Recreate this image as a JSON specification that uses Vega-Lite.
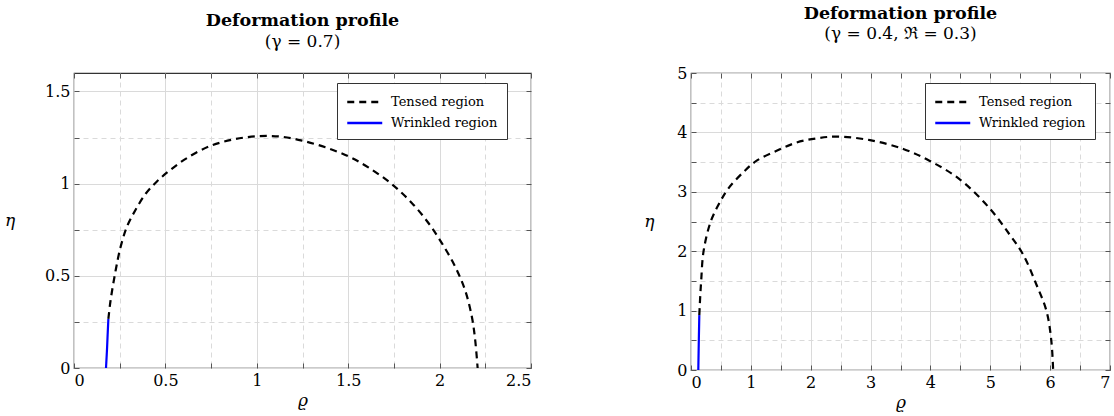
{
  "$schema": "https://vega.github.io/schema/vega-lite/v6.json",
  "padding": {"left": 3, "top": 3, "right": 4, "bottom": 5},
  "config": {
    "font": "DejaVu Serif",
    "view": {"stroke": "#333", "strokeWidth": 1.2},
    "axis": {
      "domain": false,
      "labelFont": "DejaVu Serif",
      "labelFontSize": 16,
      "labelColor": "#000",
      "tickColor": "#555",
      "tickSize": -5,
      "labelPadding": 9,
      "gridColor": "#dadada",
      "titleFont": "DejaVu Serif",
      "titleFontSize": 17,
      "titleFontStyle": "italic",
      "titleFontWeight": "normal",
      "titleColor": "#000"
    },
    "title": {
      "font": "DejaVu Serif",
      "fontSize": 17.5,
      "fontWeight": "bold",
      "color": "#000",
      "subtitleFont": "DejaVu Serif",
      "subtitleFontSize": 17,
      "subtitleColor": "#000",
      "anchor": "middle",
      "offset": 23,
      "subtitlePadding": 4
    },
    "legend": {
      "title": null,
      "orient": "none",
      "strokeColor": "#333",
      "fillColor": "#fff",
      "padding": 9,
      "labelFont": "DejaVu Serif",
      "labelFontSize": 13,
      "labelColor": "#000",
      "labelOffset": 25,
      "symbolType": "M-1,0H3",
      "symbolSize": 306,
      "symbolStrokeWidth": 2.5,
      "rowPadding": 4
    }
  },
  "datasets": {
    "curves": [
      {"panel": "a", "region": "Wrinkled region", "rho": 0.175, "eta": 0},
      {"panel": "a", "region": "Wrinkled region", "rho": 0.18, "eta": 0.09},
      {"panel": "a", "region": "Wrinkled region", "rho": 0.184, "eta": 0.18},
      {"panel": "a", "region": "Wrinkled region", "rho": 0.188, "eta": 0.266},
      {"panel": "a", "region": "Tensed region", "rho": 0.188, "eta": 0.266},
      {"panel": "a", "region": "Tensed region", "rho": 0.2, "eta": 0.366},
      {"panel": "a", "region": "Tensed region", "rho": 0.228, "eta": 0.53},
      {"panel": "a", "region": "Tensed region", "rho": 0.255, "eta": 0.657},
      {"panel": "a", "region": "Tensed region", "rho": 0.29, "eta": 0.767},
      {"panel": "a", "region": "Tensed region", "rho": 0.337, "eta": 0.858},
      {"panel": "a", "region": "Tensed region", "rho": 0.392, "eta": 0.945},
      {"panel": "a", "region": "Tensed region", "rho": 0.455, "eta": 1.013},
      {"panel": "a", "region": "Tensed region", "rho": 0.528, "eta": 1.075},
      {"panel": "a", "region": "Tensed region", "rho": 0.62, "eta": 1.14},
      {"panel": "a", "region": "Tensed region", "rho": 0.747, "eta": 1.205},
      {"panel": "a", "region": "Tensed region", "rho": 0.874, "eta": 1.24},
      {"panel": "a", "region": "Tensed region", "rho": 1.0, "eta": 1.257},
      {"panel": "a", "region": "Tensed region", "rho": 1.13, "eta": 1.255},
      {"panel": "a", "region": "Tensed region", "rho": 1.248, "eta": 1.233},
      {"panel": "a", "region": "Tensed region", "rho": 1.375, "eta": 1.197},
      {"panel": "a", "region": "Tensed region", "rho": 1.503, "eta": 1.147},
      {"panel": "a", "region": "Tensed region", "rho": 1.612, "eta": 1.087},
      {"panel": "a", "region": "Tensed region", "rho": 1.739, "eta": 0.997},
      {"panel": "a", "region": "Tensed region", "rho": 1.849, "eta": 0.894},
      {"panel": "a", "region": "Tensed region", "rho": 1.94, "eta": 0.785},
      {"panel": "a", "region": "Tensed region", "rho": 2.013, "eta": 0.676},
      {"panel": "a", "region": "Tensed region", "rho": 2.086, "eta": 0.548},
      {"panel": "a", "region": "Tensed region", "rho": 2.14, "eta": 0.42},
      {"panel": "a", "region": "Tensed region", "rho": 2.177, "eta": 0.275},
      {"panel": "a", "region": "Tensed region", "rho": 2.195, "eta": 0.148},
      {"panel": "a", "region": "Tensed region", "rho": 2.208, "eta": 0},
      {"panel": "b", "region": "Wrinkled region", "rho": 0.122, "eta": 0},
      {"panel": "b", "region": "Wrinkled region", "rho": 0.13, "eta": 0.46},
      {"panel": "b", "region": "Wrinkled region", "rho": 0.139, "eta": 0.924},
      {"panel": "b", "region": "Tensed region", "rho": 0.139, "eta": 0.924},
      {"panel": "b", "region": "Tensed region", "rho": 0.152, "eta": 1.2},
      {"panel": "b", "region": "Tensed region", "rho": 0.17, "eta": 1.5},
      {"panel": "b", "region": "Tensed region", "rho": 0.21, "eta": 2.0},
      {"panel": "b", "region": "Tensed region", "rho": 0.33, "eta": 2.5},
      {"panel": "b", "region": "Tensed region", "rho": 0.484, "eta": 2.828},
      {"panel": "b", "region": "Tensed region", "rho": 0.62, "eta": 3.05},
      {"panel": "b", "region": "Tensed region", "rho": 0.874, "eta": 3.33},
      {"panel": "b", "region": "Tensed region", "rho": 1.097, "eta": 3.524},
      {"panel": "b", "region": "Tensed region", "rho": 1.43, "eta": 3.69},
      {"panel": "b", "region": "Tensed region", "rho": 1.766, "eta": 3.83},
      {"panel": "b", "region": "Tensed region", "rho": 2.1, "eta": 3.9},
      {"panel": "b", "region": "Tensed region", "rho": 2.43, "eta": 3.93},
      {"panel": "b", "region": "Tensed region", "rho": 2.99, "eta": 3.87},
      {"panel": "b", "region": "Tensed region", "rho": 3.547, "eta": 3.72},
      {"panel": "b", "region": "Tensed region", "rho": 3.99, "eta": 3.52},
      {"panel": "b", "region": "Tensed region", "rho": 4.49, "eta": 3.21},
      {"panel": "b", "region": "Tensed region", "rho": 4.99, "eta": 2.72},
      {"panel": "b", "region": "Tensed region", "rho": 5.33, "eta": 2.27},
      {"panel": "b", "region": "Tensed region", "rho": 5.55, "eta": 1.94},
      {"panel": "b", "region": "Tensed region", "rho": 5.77, "eta": 1.44},
      {"panel": "b", "region": "Tensed region", "rho": 5.94, "eta": 0.99},
      {"panel": "b", "region": "Tensed region", "rho": 6.02, "eta": 0.49},
      {"panel": "b", "region": "Tensed region", "rho": 6.05, "eta": 0}
    ]
  },
  "spacing": 160,
  "bounds": "flush",
  "resolve": {
    "scale": {"color": "independent", "strokeDash": "independent"},
    "legend": {"color": "independent", "strokeDash": "independent"}
  },
  "hconcat": [
    {
      "width": 457,
      "height": 295,
      "title": {"text": "Deformation profile", "subtitle": "(γ = 0.7)"},
      "data": {"name": "curves"},
      "transform": [{"filter": "datum.panel === 'a'"}],
      "layer": [
        {
          "mark": {"type": "line", "strokeWidth": 2.2, "interpolate": "catmull-rom"},
          "encoding": {
            "x": {
              "field": "rho", "type": "quantitative",
              "scale": {"domain": [0, 2.5], "nice": false, "zero": false},
              "axis": {
                "title": "ϱ", "titlePadding": 4,
                "values": [0, 0.25, 0.5, 0.75, 1, 1.25, 1.5, 1.75, 2, 2.25, 2.5],
                "labelExpr": "datum.value % 0.5 === 0 ? format(datum.value, '~g') : ''",
                "gridDash": {"condition": {"test": "datum.value % 0.5 !== 0", "value": [5, 4]}, "value": []}
              }
            },
            "y": {
              "field": "eta", "type": "quantitative",
              "scale": {"domain": [0, 1.6], "nice": false, "zero": false},
              "axis": {
                "title": "η", "titleAngle": 0, "titleBaseline": "middle", "titlePadding": 35,
                "values": [0, 0.25, 0.5, 0.75, 1, 1.25, 1.5],
                "labelExpr": "datum.value % 0.5 === 0 ? format(datum.value, '~g') : ''",
                "gridDash": {"condition": {"test": "datum.value % 0.5 !== 0", "value": [5, 4]}, "value": []}
              }
            },
            "color": {
              "field": "region", "type": "nominal",
              "scale": {"domain": ["Tensed region", "Wrinkled region"], "range": ["#000000", "#0000ff"]},
              "legend": {"legendX": 263, "legendY": 10}
            },
            "strokeDash": {
              "field": "region", "type": "nominal",
              "scale": {"domain": ["Tensed region", "Wrinkled region"], "range": [[7, 5], [1, 0]]},
              "legend": {"legendX": 263, "legendY": 10}
            }
          }
        },
        {
          "mark": {"type": "line", "strokeOpacity": 0},
          "encoding": {
            "x": {
              "field": "rho", "type": "quantitative",
              "axis": {"orient": "top", "title": null, "labels": false, "grid": false,
                       "values": [0, 0.25, 0.5, 0.75, 1, 1.25, 1.5, 1.75, 2, 2.25, 2.5]}
            },
            "y": {
              "field": "eta", "type": "quantitative",
              "axis": {"orient": "right", "title": null, "labels": false, "grid": false,
                       "values": [0, 0.25, 0.5, 0.75, 1, 1.25, 1.5]}
            },
            "detail": {"field": "region"}
          }
        }
      ],
      "resolve": {"axis": {"x": "independent", "y": "independent"}}
    },
    {
      "width": 419,
      "height": 297,
      "title": {"text": "Deformation profile", "subtitle": "(γ = 0.4, ℜ = 0.3)"},
      "data": {"name": "curves"},
      "transform": [{"filter": "datum.panel === 'b'"}],
      "layer": [
        {
          "mark": {"type": "line", "strokeWidth": 2.2, "interpolate": "catmull-rom"},
          "encoding": {
            "x": {
              "field": "rho", "type": "quantitative",
              "scale": {"domain": [0, 7], "nice": false, "zero": false},
              "axis": {
                "title": "ϱ", "titlePadding": 4,
                "values": [0, 0.5, 1, 1.5, 2, 2.5, 3, 3.5, 4, 4.5, 5, 5.5, 6, 6.5, 7],
                "labelExpr": "datum.value % 1 === 0 ? format(datum.value, '~g') : ''",
                "gridDash": {"condition": {"test": "datum.value % 1 !== 0", "value": [5, 4]}, "value": []}
              }
            },
            "y": {
              "field": "eta", "type": "quantitative",
              "scale": {"domain": [0, 5], "nice": false, "zero": false},
              "axis": {
                "title": "η", "titleAngle": 0, "titleBaseline": "middle", "titlePadding": 28,
                "values": [0, 0.5, 1, 1.5, 2, 2.5, 3, 3.5, 4, 4.5, 5],
                "labelExpr": "datum.value % 1 === 0 ? format(datum.value, '~g') : ''",
                "gridDash": {"condition": {"test": "datum.value % 1 !== 0", "value": [5, 4]}, "value": []}
              }
            },
            "color": {
              "field": "region", "type": "nominal",
              "scale": {"domain": ["Tensed region", "Wrinkled region"], "range": ["#000000", "#0000ff"]},
              "legend": {"legendX": 234, "legendY": 10}
            },
            "strokeDash": {
              "field": "region", "type": "nominal",
              "scale": {"domain": ["Tensed region", "Wrinkled region"], "range": [[7, 5], [1, 0]]},
              "legend": {"legendX": 234, "legendY": 10}
            }
          }
        },
        {
          "mark": {"type": "line", "strokeOpacity": 0},
          "encoding": {
            "x": {
              "field": "rho", "type": "quantitative",
              "axis": {"orient": "top", "title": null, "labels": false, "grid": false,
                       "values": [0, 0.5, 1, 1.5, 2, 2.5, 3, 3.5, 4, 4.5, 5, 5.5, 6, 6.5, 7]}
            },
            "y": {
              "field": "eta", "type": "quantitative",
              "axis": {"orient": "right", "title": null, "labels": false, "grid": false,
                       "values": [0, 0.5, 1, 1.5, 2, 2.5, 3, 3.5, 4, 4.5, 5]}
            },
            "detail": {"field": "region"}
          }
        }
      ],
      "resolve": {"axis": {"x": "independent", "y": "independent"}}
    }
  ]
}
